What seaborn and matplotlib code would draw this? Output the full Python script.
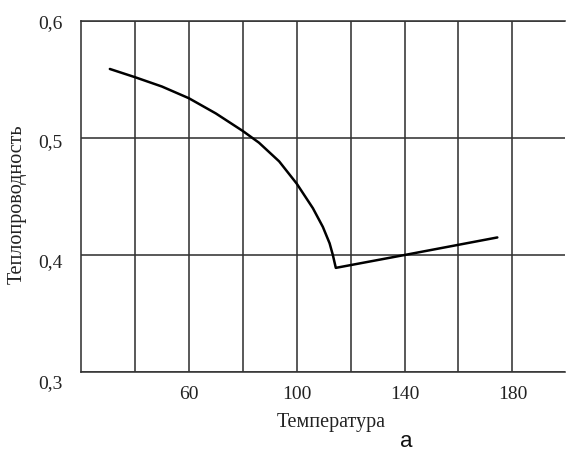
import matplotlib
matplotlib.use("Agg")
import matplotlib.pyplot as plt
import matplotlib.transforms as mtransforms
import pandas as pd
import seaborn as sns

# Thermal conductivity vs temperature
temperature = [30.7, 40, 50, 60, 70, 80, 86, 93.5, 100, 106, 109.7, 112.2, 113.4, 114.5, 140, 174.4]
conductivity = [0.559, 0.552, 0.544, 0.534, 0.521, 0.506, 0.496, 0.480, 0.461, 0.440, 0.424, 0.410, 0.400, 0.389, 0.400, 0.415]

x_ticks = [60, 100, 140, 180]
x_grid = [40, 60, 80, 100, 120, 140, 160, 180]
y_ticks = [0.3, 0.4, 0.5, 0.6]
y_tick_labels = ["0,3", "0,4", "0,5", "0,6"]

x_label = "Температура"
y_label = "Теплопроводность"
caption = "а"

sns.set_style("white")
plt.rcParams["font.family"] = ["Liberation Serif", "DejaVu Serif"]

df = pd.DataFrame({"T": temperature, "k": conductivity})

fig = plt.figure(figsize=(5.68, 4.53), dpi=100)
ax = fig.add_axes([81 / 568, 1 - 372 / 453, (565 - 81) / 568, (372 - 21) / 453])

for gx in x_grid:
    ax.axvline(gx, color="#333333", lw=1.15, zorder=1)
for gy in y_ticks:
    ax.axhline(gy, color="#333333", lw=1.15, zorder=1)

sns.lineplot(data=df, x="T", y="k", sort=False, color="black", lw=1.8, ax=ax, zorder=3)

ax.set_xlim(20, 199.5)
ax.set_ylim(0.3, 0.6)
ax.set_xticks(x_ticks)
ax.set_xticklabels([str(t) for t in x_ticks], fontsize=14)
ax.set_yticks(y_ticks)
ax.set_yticklabels(y_tick_labels, fontsize=14)
ax.tick_params(axis="both", length=0, colors="#222222")
ax.tick_params(axis="y", pad=13)
ax.tick_params(axis="x", pad=10)

# y tick labels sit a little below their grid lines
label_drop_px = [10, 6, 3, 1]
for lbl, drop in zip(ax.get_yticklabels(), label_drop_px):
    offset = mtransforms.ScaledTranslation(0, -drop / 100, fig.dpi_scale_trans)
    lbl.set_transform(lbl.get_transform() + offset)

for side in ["left", "top", "bottom"]:
    ax.spines[side].set_color("#333333")
    ax.spines[side].set_linewidth(1.15)
ax.spines["right"].set_visible(False)

ax.set_xlabel("")
ax.set_ylabel("")
fig.text(331 / 568, 1 - 422 / 453, x_label, ha="center", va="center", fontsize=14.5, color="#222222")
fig.text(17 / 568, 1 - 204 / 453, y_label, ha="center", va="center", rotation=90, fontsize=14.5, color="#222222")
fig.text(406 / 568, 1 - 452 / 453, caption, ha="center", va="bottom", fontsize=16,
         family=["Liberation Sans", "DejaVu Sans"], color="#111111")

fig.savefig("out.png", dpi=100)
